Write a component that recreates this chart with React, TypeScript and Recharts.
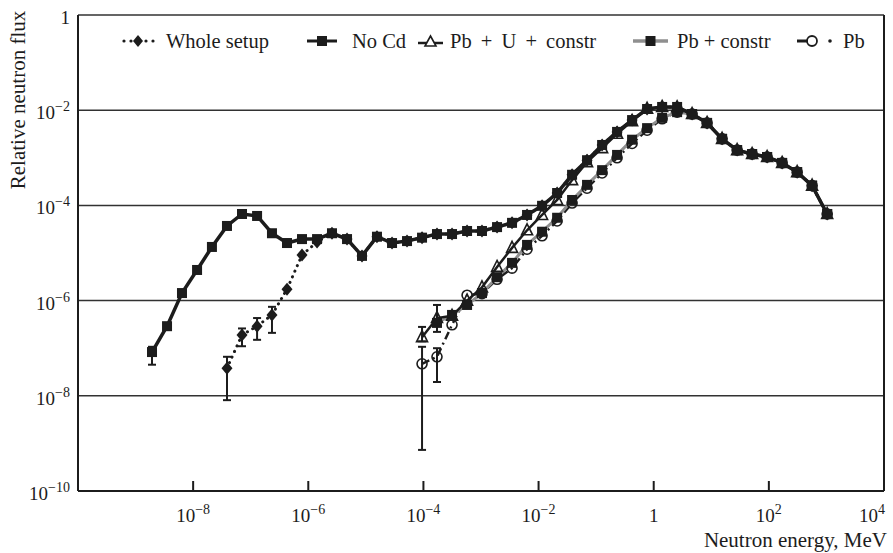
import React from 'react';
import { ComposedChart, Line, XAxis, YAxis, CartesianGrid, ReferenceLine, ErrorBar, Label } from 'recharts';

const FONT = '"Liberation Serif", "Times New Roman", serif';
const INK = '#1c1c1c';
const GREY = '#8f8f8f';

// bin energies, MeV
const energy = [
  1.93e-9, 3.52e-9, 6.4e-9, 1.17e-8, 2.12e-8, 3.87e-8, 7.06e-8, 1.29e-7, 2.34e-7, 4.27e-7,
  7.78e-7, 1.42e-6, 2.58e-6, 4.71e-6, 8.57e-6, 1.56e-5, 2.85e-5, 5.19e-5, 9.46e-5, 1.72e-4,
  3.14e-4, 5.73e-4, 1.04e-3, 1.9e-3, 3.46e-3, 6.31e-3, 1.15e-2, 2.1e-2, 3.82e-2, 6.95e-2,
  0.127, 0.231, 0.421, 0.767, 1.4, 2.55, 4.64, 8.45, 15.4, 28.1,
  51.2, 93.3, 170, 310, 564, 1030,
];

const noCd = [
  8.3e-8, 2.9e-7, 1.44e-6, 4.4e-6, 1.34e-5, 3.7e-5, 6.6e-5, 6.0e-5, 2.6e-5, 1.62e-5,
  1.96e-5, 1.96e-5, 2.6e-5, 1.96e-5, 8.7e-6, 2.2e-5, 1.62e-5, 1.78e-5, 2.1e-5, 2.5e-5,
  2.5e-5, 2.9e-5, 2.9e-5, 3.5e-5, 4.3e-5, 6.3e-5, 9.8e-5, 1.82e-4, 4.4e-4, 8.9e-4,
  1.86e-3, 3.5e-3, 6.2e-3, 1.06e-2, 1.17e-2, 1.17e-2, 8.3e-3, 5.4e-3, 2.5e-3, 1.45e-3,
  1.2e-3, 1.04e-3, 7.8e-4, 5.0e-4, 2.6e-4, 6.6e-5,
];

const wholeSetup = [
  null, null, null, null, null, 3.8e-8, 1.9e-7, 2.9e-7, 5.0e-7, 1.74e-6,
  9.1e-6, 1.7e-5, 2.6e-5, 1.96e-5, 8.7e-6, 2.2e-5, 1.62e-5, 1.78e-5, 2.1e-5, 2.5e-5,
  2.5e-5, 2.9e-5, 2.9e-5, 3.5e-5, 4.3e-5, 6.3e-5, 9.8e-5, 1.82e-4, 4.4e-4, 8.9e-4,
  1.86e-3, 3.5e-3, 6.2e-3, 1.06e-2, 1.17e-2, 1.17e-2, 8.3e-3, 5.4e-3, 2.5e-3, 1.45e-3,
  1.2e-3, 1.04e-3, 7.8e-4, 5.0e-4, 2.6e-4, 6.6e-5,
];

const pbUConstr = [
  null, null, null, null, null, null, null, null, null, null,
  null, null, null, null, null, null, null, null, 1.7e-7, 4.3e-7,
  4.8e-7, 1.0e-6, 1.9e-6, 5.1e-6, 1.28e-5, 3.0e-5, 6.3e-5, 1.3e-4, 3.4e-4, 8.1e-4,
  1.6e-3, 3.2e-3, 5.9e-3, 1.07e-2, 1.17e-2, 1.15e-2, 8.3e-3, 5.4e-3, 2.5e-3, 1.45e-3,
  1.2e-3, 1.04e-3, 7.8e-4, 5.0e-4, 2.6e-4, 6.6e-5,
];

const pbConstr = [
  null, null, null, null, null, null, null, null, null, null,
  null, null, null, null, null, null, null, null, null, 3.4e-7,
  5.0e-7, 8.1e-7, 1.44e-6, 3.1e-6, 6.2e-6, 1.48e-5, 2.8e-5, 5.5e-5, 1.3e-4, 2.7e-4,
  5.5e-4, 1.15e-3, 2.4e-3, 4.2e-3, 6.9e-3, 9.1e-3, 8.3e-3, 5.4e-3, 2.5e-3, 1.45e-3,
  1.2e-3, 1.04e-3, 7.8e-4, 5.0e-4, 2.6e-4, 6.6e-5,
];

const pb = [
  null, null, null, null, null, null, null, null, null, null,
  null, null, null, null, null, null, null, null, 4.7e-8, 6.6e-8,
  3.1e-7, 1.3e-6, 1.4e-6, 2.8e-6, 4.8e-6, 1.2e-5, 2.3e-5, 4.7e-5, 1.12e-4, 2.3e-4,
  4.8e-4, 1.0e-3, 2.0e-3, 3.8e-3, 6.6e-3, 9.1e-3, 8.3e-3, 5.4e-3, 2.5e-3, 1.45e-3,
  1.2e-3, 1.04e-3, 7.8e-4, 5.0e-4, 2.6e-4, 6.6e-5,
];

// error bars: [bin index, lower bound, upper bound]
const noCdErrors: [number, number, number][] = [[0, 4.5e-8, 1.07e-7]];
const wholeSetupErrors: [number, number, number][] = [
  [5, 8.1e-9, 6.6e-8],
  [6, 1.1e-7, 2.6e-7],
  [7, 1.5e-7, 4.3e-7],
  [8, 2.1e-7, 7.4e-7],
];
const pbUConstrErrors: [number, number, number][] = [[18, 1.4e-7, 2.8e-7]];
const pbConstrErrors: [number, number, number][] = [[19, 2.2e-7, 8.1e-7]];
const pbErrors: [number, number, number][] = [
  [18, 7.3e-10, 1.07e-7],
  [19, 1.95e-8, 1.0e-7],
];

const xTicks = [1e-8, 1e-6, 1e-4, 1e-2, 1, 1e2, 1e4];
const yTicks = [1e-10, 1e-8, 1e-6, 1e-4, 1e-2, 1];

const errorsFor = (values: (number | null)[], errs: [number, number, number][]) => {
  const out: ([number, number] | undefined)[] = values.map(() => undefined);
  errs.forEach(([i, lo, hi]) => {
    const v = values[i] as number;
    out[i] = [v - lo, hi - v];
  });
  return out;
};

const noCdE = errorsFor(noCd, noCdErrors);
const wholeE = errorsFor(wholeSetup, wholeSetupErrors);
const pbUE = errorsFor(pbUConstr, pbUConstrErrors);
const pbCE = errorsFor(pbConstr, pbConstrErrors);
const pbE = errorsFor(pb, pbErrors);

const rows = energy.map((e, i) => ({
  e,
  noCd: noCd[i],
  whole: wholeSetup[i],
  pbU: pbUConstr[i],
  pbC: pbConstr[i],
  pb: pb[i],
  noCdErr: noCdE[i],
  wholeErr: wholeE[i],
  pbUErr: pbUE[i],
  pbCErr: pbCE[i],
  pbErr: pbE[i],
}));

const expText = (v: number) => {
  const n = Math.round(Math.log10(v));
  if (n === 0) return <tspan>1</tspan>;
  return (
    <>
      <tspan>10</tspan>
      <tspan dy={-8} fontSize={14}>{n < 0 ? '\u2212' + -n : String(n)}</tspan>
    </>
  );
};

const XTick = (p: any) => {
  const v = p.payload.value;
  const last = v === xTicks[xTicks.length - 1];
  return (
    <g>
      <line x1={p.x} x2={p.x} y1={p.y} y2={p.y - 10} stroke={INK} strokeWidth={2} />
      <text x={last ? p.x + 1 : p.x} y={p.y + 31} textAnchor={last ? 'end' : 'middle'} fontSize={19} fontFamily={FONT} fill={INK}>
        {expText(v)}
      </text>
    </g>
  );
};

const YTick = (p: any) => (
  <text x={p.x - 8} y={p.y + 9} textAnchor="end" fontSize={19} fontFamily={FONT} fill={INK}>
    {expText(p.payload.value)}
  </text>
);

const hidden = (p: any) => <g key={p.index} />;

const squareDot = (p: any) =>
  p.cy == null || p.cx == null ? hidden(p) : (
    <rect key={p.index} x={p.cx - 5} y={p.cy - 5} width={10} height={10} fill={INK} />
  );

const diamondDot = (p: any) =>
  p.cy == null || p.cx == null ? hidden(p) : (
    <polygon
      key={p.index}
      points={`${p.cx},${p.cy - 6.5} ${p.cx + 5.5},${p.cy} ${p.cx},${p.cy + 6.5} ${p.cx - 5.5},${p.cy}`}
      fill={INK}
    />
  );

const triangleDot = (p: any) =>
  p.cy == null || p.cx == null ? hidden(p) : (
    <polygon
      key={p.index}
      points={`${p.cx},${p.cy - 6.5} ${p.cx + 5.5},${p.cy + 4.5} ${p.cx - 5.5},${p.cy + 4.5}`}
      fill="none"
      stroke={INK}
      strokeWidth={1.6}
    />
  );

const circleDot = (p: any) =>
  p.cy == null || p.cx == null ? hidden(p) : (
    <circle key={p.index} cx={p.cx} cy={p.cy} r={5} fill="none" stroke={INK} strokeWidth={1.6} />
  );

const ChartLegend = () => {
  const cy = 41;
  const ty = 47.5;
  const txt = { fontSize: 20.5, fontFamily: FONT, fill: INK } as const;
  return (
    <svg width={893} height={60} style={{ position: 'absolute', left: 0, top: 0, pointerEvents: 'none' }}>
      {/* Whole setup */}
      {[124, 131, 146, 153].map((x) => (
        <circle key={x} cx={x} cy={cy} r={1.6} fill={INK} />
      ))}
      <polygon points={`138,${cy - 6} 143,${cy} 138,${cy + 6} 133,${cy}`} fill={INK} />
      <text x={166} y={ty} {...txt}>Whole setup</text>
      {/* No Cd */}
      <line x1={307} x2={337} y1={cy} y2={cy} stroke={INK} strokeWidth={3} />
      <rect x={317} y={cy - 5} width={10} height={10} fill={INK} />
      <text x={352} y={ty} {...txt}>No Cd</text>
      {/* Pb+U+constr */}
      <line x1={418} x2={443} y1={cy + 2} y2={cy + 2} stroke={INK} strokeWidth={2.5} />
      <polygon points={`430.5,${cy - 5} 436,${cy + 5} 425,${cy + 5}`} fill="#fff" stroke={INK} strokeWidth={1.6} />
      <text x={450} y={ty} wordSpacing={4} {...txt}>Pb + U + constr</text>
      {/* Pb+constr */}
      <line x1={633} x2={668} y1={cy} y2={cy} stroke={GREY} strokeWidth={3.5} />
      <rect x={645.5} y={cy - 5} width={10} height={10} fill={INK} />
      <text x={677} y={ty} {...txt}>Pb + constr</text>
      {/* Pb */}
      <line x1={797} x2={808} y1={cy} y2={cy} stroke={INK} strokeWidth={3} />
      <circle cx={812} cy={cy} r={5} fill="none" stroke={INK} strokeWidth={1.8} />
      <circle cx={830} cy={cy} r={1.8} fill={INK} />
      <text x={843} y={ty} {...txt}>Pb</text>
    </svg>
  );
};

export default function App() {
  return (
    <div style={{ position: 'absolute', left: 0, top: 0, width: 893, height: 553, background: '#fff' }}>
      <ComposedChart width={893} height={553} data={rows} margin={{ top: 15, right: 9, bottom: 0, left: 0 }}>
        <CartesianGrid horizontal vertical={false} stroke={INK} strokeWidth={1.5} strokeOpacity={0.9} />
        <XAxis
          dataKey="e"
          type="number"
          scale="log"
          domain={[1e-10, 1e4]}
          ticks={xTicks}
          interval={0}
          allowDataOverflow
          height={62}
          tickSize={0}
          tickMargin={0}
          tickLine={false}
          tick={XTick}
          axisLine={{ stroke: INK, strokeWidth: 2 }}
        >
          <Label
            content={(lp: any) => (
              <text
                x={lp.viewBox.x + lp.viewBox.width + 3}
                y={lp.viewBox.y + 56}
                textAnchor="end"
                fontSize={21}
                fontFamily={FONT}
                fill={INK}
              >
                Neutron energy, MeV
              </text>
            )}
          />
        </XAxis>
        <YAxis
          type="number"
          scale="log"
          domain={[1e-10, 1]}
          ticks={yTicks}
          interval={0}
          allowDataOverflow
          width={78}
          tickSize={0}
          tickMargin={0}
          tickLine={false}
          tick={YTick}
          axisLine={{ stroke: INK, strokeWidth: 2 }}
        >
          <Label
            content={(lp: any) => (
              <text
                x={25}
                y={lp.viewBox.y + 85}
                transform={`rotate(-90 25 ${lp.viewBox.y + 85})`}
                textAnchor="middle"
                fontSize={21}
                fontFamily={FONT}
                fill={INK}
              >
                Relative neutron flux
              </text>
            )}
          />
        </YAxis>
        <ReferenceLine x={1e4} stroke={INK} strokeWidth={2} ifOverflow="visible" />

        <Line
          dataKey="pb"
          type="linear"
          stroke={INK}
          strokeWidth={2.5}
          strokeDasharray="8 4 2 4"
          dot={circleDot}
          activeDot={false}
          isAnimationActive={false}
        >
          <ErrorBar dataKey="pbErr" direction="y" width={4} stroke={INK} strokeWidth={2} />
        </Line>
        <Line
          dataKey="pbC"
          type="linear"
          stroke={GREY}
          strokeWidth={3}
          dot={squareDot}
          activeDot={false}
          isAnimationActive={false}
        >
          <ErrorBar dataKey="pbCErr" direction="y" width={4} stroke={INK} strokeWidth={2} />
        </Line>
        <Line
          dataKey="pbU"
          type="linear"
          stroke={INK}
          strokeWidth={2.5}
          dot={triangleDot}
          activeDot={false}
          isAnimationActive={false}
        >
          <ErrorBar dataKey="pbUErr" direction="y" width={4} stroke={INK} strokeWidth={2} />
        </Line>
        <Line
          dataKey="whole"
          type="linear"
          stroke={INK}
          strokeWidth={3}
          strokeDasharray="0.1 6"
          strokeLinecap="round"
          dot={diamondDot}
          activeDot={false}
          isAnimationActive={false}
        >
          <ErrorBar dataKey="wholeErr" direction="y" width={4} stroke={INK} strokeWidth={2} />
        </Line>
        <Line
          dataKey="noCd"
          type="linear"
          stroke={INK}
          strokeWidth={3.5}
          dot={squareDot}
          activeDot={false}
          isAnimationActive={false}
        >
          <ErrorBar dataKey="noCdErr" direction="y" width={4} stroke={INK} strokeWidth={2} />
        </Line>
      </ComposedChart>
      <ChartLegend />
    </div>
  );
}
